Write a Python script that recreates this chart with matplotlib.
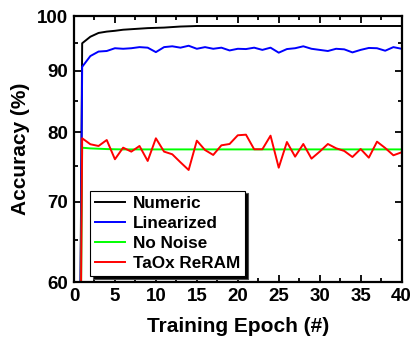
import matplotlib
matplotlib.use("Agg")
import matplotlib.pyplot as plt
from matplotlib.ticker import FixedLocator, FixedFormatter, MultipleLocator
import numpy as np

plt.rcParams['font.family'] = ['Liberation Sans', 'DejaVu Sans']
plt.rcParams['font.weight'] = 'bold'

epochs = list(range(0, 41))
numeric = [10.0, 94.9, 96.1, 96.8, 97.05, 97.2, 97.4, 97.5, 97.6, 97.7, 97.75,
           97.8, 97.9, 98.0, 98.05, 98.1, 98.1, 98.1, 98.1, 98.1, 98.1,
           98.1, 98.1, 98.1, 98.1, 98.1, 98.1, 98.1, 98.1, 98.1, 98.1,
           98.1, 98.1, 98.1, 98.1, 98.1, 98.1, 98.1, 98.1, 98.1, 98.1]
linearized = [10.0, 90.7, 92.6, 93.4, 93.5, 94.0, 93.9, 94.0, 94.2, 94.1, 93.3,
              94.2, 94.35, 94.1, 94.45, 93.9, 94.2, 93.9, 94.1, 93.6, 93.9,
              93.85, 94.1, 93.7, 94.1, 93.2, 93.85, 94.0, 94.35, 93.9, 93.7,
              93.5, 93.9, 93.8, 93.25, 93.7, 94.05, 94.0, 93.55, 94.2, 93.9]
no_noise = [10.0, 77.65, 77.55, 77.5, 77.45, 77.42, 77.4, 77.4, 77.4, 77.4, 77.4,
            77.4, 77.4, 77.4, 77.4, 77.4, 77.4, 77.4, 77.4, 77.4, 77.4,
            77.4, 77.4, 77.4, 77.4, 77.4, 77.4, 77.4, 77.4, 77.4, 77.4,
            77.4, 77.4, 77.4, 77.4, 77.4, 77.4, 77.4, 77.4, 77.4, 77.4]
taox = [10.0, 79.07, 78.17, 77.91, 78.81, 75.95, 77.66, 77.07, 77.91, 75.70, 79.07,
        77.07, 76.68, 75.51, 74.40, 78.71, 77.31, 76.58, 78.01, 78.21, 79.53,
        79.62, 77.42, 77.42, 79.47, 74.73, 78.51, 76.33, 78.21, 76.04, 77.07,
        78.21, 77.57, 77.17, 76.28, 77.46, 76.18, 78.56, 77.61, 76.53, 76.97]

series_names = ['Numeric', 'Linearized', 'No Noise', 'TaOx ReRAM']
series_colors = ['black', '#0000ff', '#00ff00', '#ff0000']
y_ticks = [60, 70, 80, 90, 100]
y_minor = [65, 75, 85, 95]
x_ticks = [0, 5, 10, 15, 20, 25, 30, 35, 40]

fig = plt.figure(figsize=(4.14, 3.37), dpi=100)
ax = fig.add_axes([0.1787, 0.1632, 0.7913, 0.7893])

for data, name, col in zip([numeric, linearized, no_noise, taox], series_names, series_colors):
    ax.plot(epochs, data, color=col, lw=1.4, label=name)

ax.set_yscale('log')
ax.set_ylim(60, 100)
ax.set_xlim(0, 40)
ax.yaxis.set_major_locator(FixedLocator(y_ticks))
ax.yaxis.set_major_formatter(FixedFormatter([str(t) for t in y_ticks]))
ax.yaxis.set_minor_locator(FixedLocator(y_minor))
ax.yaxis.set_minor_formatter(FixedFormatter([''] * len(y_minor)))
ax.xaxis.set_major_locator(FixedLocator(x_ticks))
ax.xaxis.set_minor_locator(MultipleLocator(2.5))

ax.tick_params(which='both', direction='in', top=True, right=True, width=1.3)
ax.tick_params(which='major', length=5, labelsize=13.5, pad=4)
ax.tick_params(which='minor', length=3)
for lab in ax.get_xticklabels() + ax.get_yticklabels():
    lab.set_fontweight('bold')
for sp in ax.spines.values():
    sp.set_linewidth(1.6)

ax.set_xlabel('Training Epoch (#)', fontsize=15, fontweight='bold', labelpad=9)
ax.set_ylabel('Accuracy (%)', fontsize=15, fontweight='bold', labelpad=5)

leg = ax.legend(loc='lower left', bbox_to_anchor=(0.049, 0.022), fontsize=12.3,
                frameon=True, fancybox=False, edgecolor='black', framealpha=1,
                shadow={'facecolor': 'black', 'alpha': 1}, handlelength=1.75,
                borderpad=0.3, labelspacing=0.3, handletextpad=0.45, borderaxespad=0)
leg.get_frame().set_linewidth(0.8)
for t in leg.get_texts():
    t.set_fontweight('bold')

fig.savefig('out.png', dpi=100)
